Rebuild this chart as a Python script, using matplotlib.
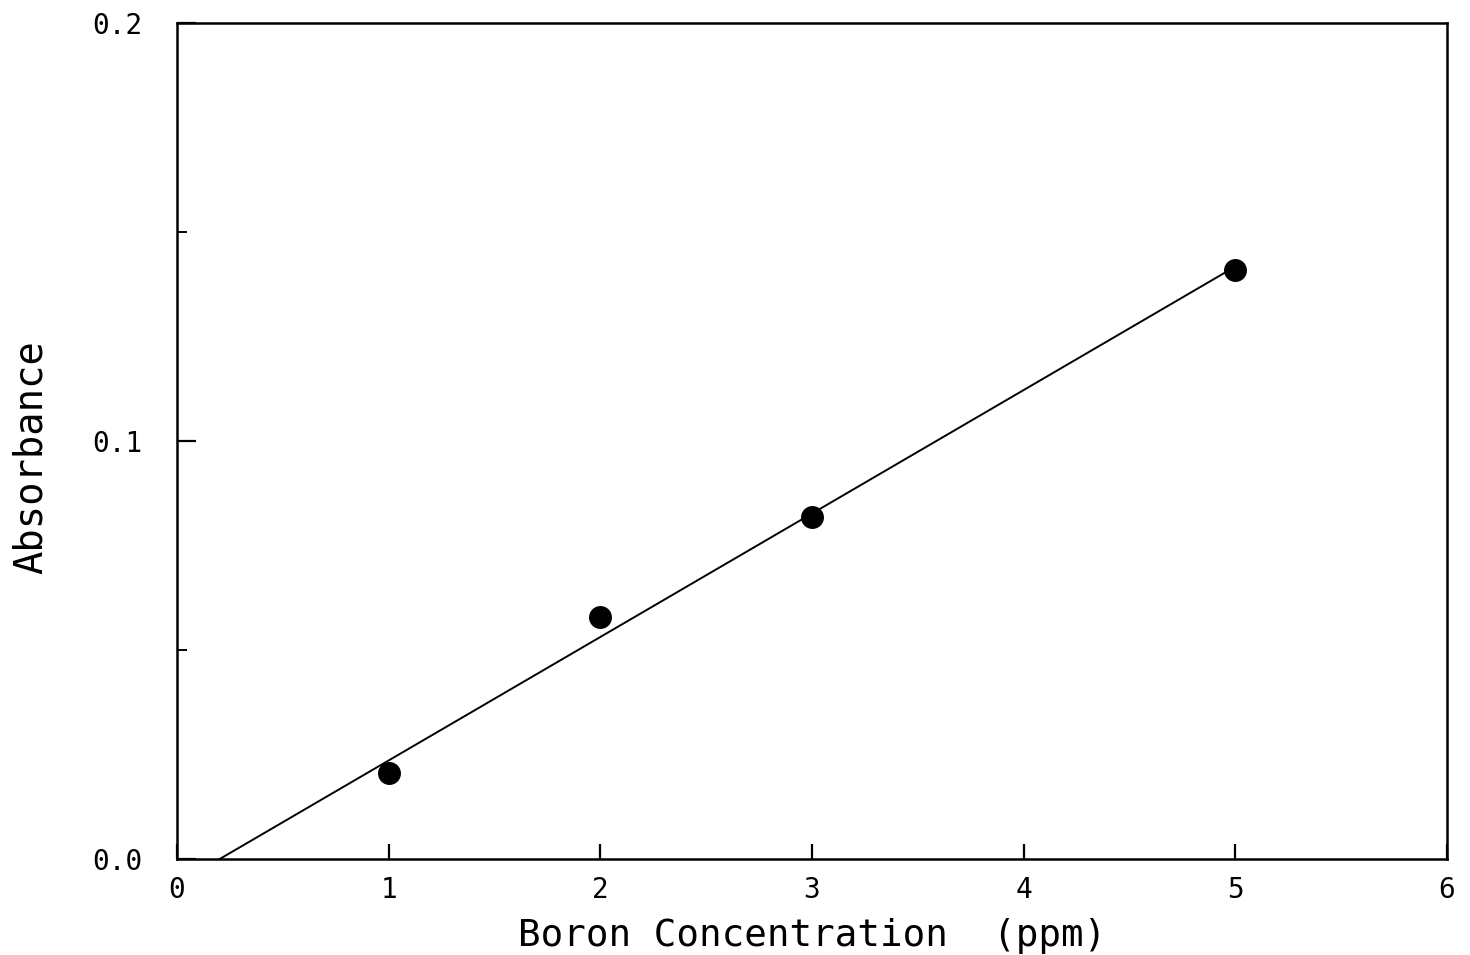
import numpy as np
import matplotlib
matplotlib.use("Agg")
import matplotlib.pyplot as plt
from matplotlib.ticker import MultipleLocator

# Calibration standards
boron_ppm = [1, 2, 3, 5]
absorbance = [0.0205, 0.0578, 0.0818, 0.1410]

x_ticks = [0, 1, 2, 3, 4, 5, 6]
y_ticks = [0.0, 0.1, 0.2]
y_tick_labels = ["0.0", "0.1", "0.2"]

plt.rcParams["font.family"] = ["DejaVu Sans Mono"]

fig = plt.figure(figsize=(14.7, 9.55), dpi=100)
ax = fig.add_axes([0.1204, 0.1005, 0.864, 0.8754])

# Least-squares calibration line, drawn from the x-intercept to the last standard
slope, intercept = np.polyfit(boron_ppm, absorbance, 1)
x0 = -intercept / slope
xs = np.array([x0, boron_ppm[-1]])
ax.plot(xs, slope * xs + intercept, color="black", lw=1.4, zorder=2)

ax.plot(boron_ppm, absorbance, "o", color="black", markersize=15.5, zorder=3)

ax.set_xlim(0, 6)
ax.set_ylim(0, 0.2)
ax.set_xticks(x_ticks)
ax.set_xticklabels([str(t) for t in x_ticks])
ax.set_yticks(y_ticks)
ax.set_yticklabels(y_tick_labels)
ax.yaxis.set_minor_locator(MultipleLocator(0.05))

for s in ax.spines.values():
    s.set_linewidth(1.8)

ax.tick_params(axis="x", which="major", direction="in", length=11, width=1.6,
               labelsize=20, pad=12, top=False)
ax.tick_params(axis="y", which="major", direction="in", length=14, width=1.6,
               labelsize=20, pad=25, right=False)
ax.tick_params(axis="y", which="minor", direction="in", length=7, width=1.4, right=False)

ax.set_xlabel("Boron Concentration  (ppm)", fontsize=27, labelpad=10)
ax.set_ylabel("Absorbance", fontsize=28)
ax.yaxis.set_label_coords(-0.100, 0.481)

fig.savefig("out.png", dpi=100, facecolor="white")
